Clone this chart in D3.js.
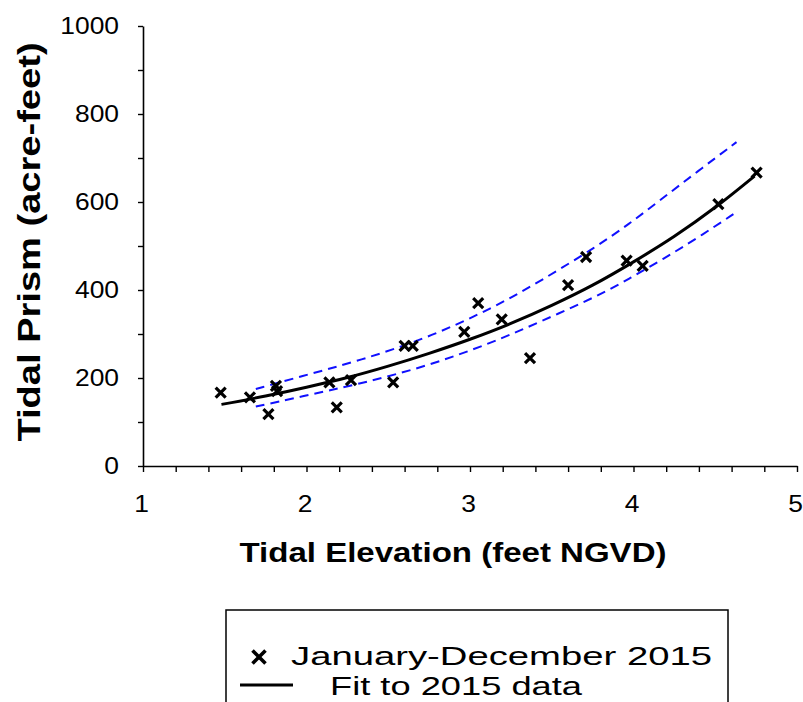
<!DOCTYPE html>
<html>
<head>
<meta charset="utf-8">
<script src="https://cdn.jsdelivr.net/npm/d3@7"></script>
<style>
  body { margin: 0; background: #fff; }
  svg { display: block; }
  text { font-family: "Liberation Sans", Arial, sans-serif; fill: #000; }
</style>
</head>
<body>
<svg id="chart" width="803" height="702"></svg>
<script>
// Observed tidal elevation (feet NGVD) and tidal prism (acre-feet), Jan–Dec 2015
const obsElevation = [1.475, 1.654, 1.767, 1.813, 1.820, 2.140, 2.185, 2.272, 2.530, 2.600, 2.650, 2.965, 3.050, 3.194, 3.367, 3.600, 3.710, 3.958, 4.056, 4.519, 4.753];
const obsPrism     = [167,   156,   118,   182,   170,   190,   133,   195,   190,   273,   273,   305,   370,   333,   245,   411,   475,   467,   455,   595,   667];

// Fitted curve through the 2015 data
const fitElevation = [1.48, 1.75, 2.00, 2.25, 2.50, 2.75, 3.00, 3.25, 3.50, 3.75, 4.00, 4.25, 4.50, 4.74];
const fitPrism     = [140,  159,  179,  201,  227,  256,  288,  324,  365,  411,  464,  522,  588,  659];

// Upper / lower confidence bands around the fit
const bandElevation = [1.69, 1.96, 2.33, 2.74, 3.14, 3.43, 3.78, 3.98, 4.18, 4.39, 4.63];
const bandUpper     = [175,  203,  240,  291,  359,  420,  500,  552,  609,  669,  736];
const bandLower     = [135,  157,  187,  227,  281,  328,  386,  427,  470,  518,  577];

const xTickLabels = [1, 2, 3, 4, 5];
const yTickLabels = [0, 200, 400, 600, 800, 1000];
const legendLabels = ["January-December 2015", "Fit to 2015 data"];
const xTitle = "Tidal Elevation (feet NGVD)";
const yTitle = "Tidal Prism (acre-feet)";

const svg = d3.select("#chart");
const x = d3.scaleLinear().domain([1, 5]).range([143, 797]);
const y = d3.scaleLinear().domain([0, 1000]).range([466, 26]);
const WIDE = 1.1;

// Horizontally widen a text element around its own anchor point
function widen(sel, k, dx) {
  sel.each(function () {
    const t = d3.select(this);
    const tx = (+t.attr("x") || 0) + (dx || 0), ty = +t.attr("y") || 0;
    t.attr("x", 0).attr("y", 0)
     .attr("transform", `translate(${tx},${ty}) scale(${k},1)`);
  });
}

// Y axis: minor ticks every 100, labels every 200
const yAxis = d3.axisLeft(y)
  .tickValues(d3.range(0, 11).map(i => i * 100))
  .tickSize(5).tickSizeOuter(0).tickPadding(19)
  .tickFormat(d => yTickLabels.includes(d) ? d : "");
const gy = svg.append("g").attr("transform", `translate(${x(1)},0)`).call(yAxis);

// X axis: minor ticks every 0.2, labels at whole feet
const xAxis = d3.axisBottom(x)
  .tickValues(d3.range(0, 21).map(i => 1 + i * 0.2))
  .tickSize(6).tickSizeOuter(0).tickPadding(23)
  .tickFormat(d => {
    const r = Math.round(d);
    return Math.abs(d - r) < 1e-9 && xTickLabels.includes(r) ? r : "";
  });
const gx = svg.append("g").attr("transform", `translate(0,${y(0)})`).call(xAxis);

[gx, gy].forEach(g => {
  g.select(".domain").attr("stroke", "#000").attr("stroke-width", 1.6);
  g.selectAll(".tick line").attr("stroke", "#000").attr("stroke-width", 1.4);
  g.selectAll(".tick text").attr("font-size", 24).attr("font-family", "Liberation Sans, Arial, sans-serif").attr("fill", "#000");
});
widen(gy.selectAll(".tick text"), WIDE);
widen(gx.selectAll(".tick text"), WIDE, -2);

// Axis titles
const xt = svg.append("text").attr("x", 453).attr("y", 562)
  .attr("text-anchor", "middle").attr("font-size", 28).attr("font-weight", "bold")
  .text(xTitle);
widen(xt, 1.18);

svg.append("text")
  .attr("transform", "translate(40,242) rotate(-90) scale(1.19,1)")
  .attr("text-anchor", "middle").attr("font-size", 32).attr("font-weight", "bold")
  .text(yTitle);

// Confidence bands (blue dashed)
const bandLine = d3.line()
  .x((d, i) => x(bandElevation[i]))
  .y(d => y(d))
  .curve(d3.curveBasis);
[bandUpper, bandLower].forEach(vals => {
  svg.append("path").datum(vals)
    .attr("d", bandLine)
    .attr("fill", "none").attr("stroke", "#1010ff")
    .attr("stroke-width", 2).attr("stroke-dasharray", "9,6");
});

// Fitted curve
svg.append("path").datum(fitPrism)
  .attr("d", d3.line().x((d, i) => x(fitElevation[i])).y(d => y(d)).curve(d3.curveMonotoneX))
  .attr("fill", "none").attr("stroke", "#000").attr("stroke-width", 3);

// Observations as X markers
const cross = s => `M${-s},${-s}L${s},${s}M${-s},${s}L${s},${-s}`;
svg.append("g").selectAll("path.obs")
  .data(obsElevation)
  .join("path")
  .attr("class", "obs")
  .attr("transform", (d, i) => `translate(${x(d)},${y(obsPrism[i])})`)
  .attr("d", cross(5))
  .attr("fill", "none").attr("stroke", "#000").attr("stroke-width", 3.2);

// Legend
const lg = svg.append("g");
lg.append("rect").attr("x", 226).attr("y", 610).attr("width", 502).attr("height", 120)
  .attr("fill", "#fff").attr("stroke", "#000").attr("stroke-width", 1.5);
lg.append("path").attr("transform", "translate(259,657)").attr("d", cross(6.5))
  .attr("fill", "none").attr("stroke", "#000").attr("stroke-width", 3.6);
lg.append("text").attr("x", 291).attr("y", 665).attr("font-size", 26)
  .attr("textLength", 421).attr("lengthAdjust", "spacingAndGlyphs")
  .text(legendLabels[0]);
lg.append("line").attr("x1", 240).attr("x2", 293).attr("y1", 685).attr("y2", 685)
  .attr("stroke", "#000").attr("stroke-width", 3);
lg.append("text").attr("x", 330).attr("y", 695).attr("font-size", 26)
  .attr("textLength", 252).attr("lengthAdjust", "spacingAndGlyphs")
  .text(legendLabels[1]);
</script>
</body>
</html>
